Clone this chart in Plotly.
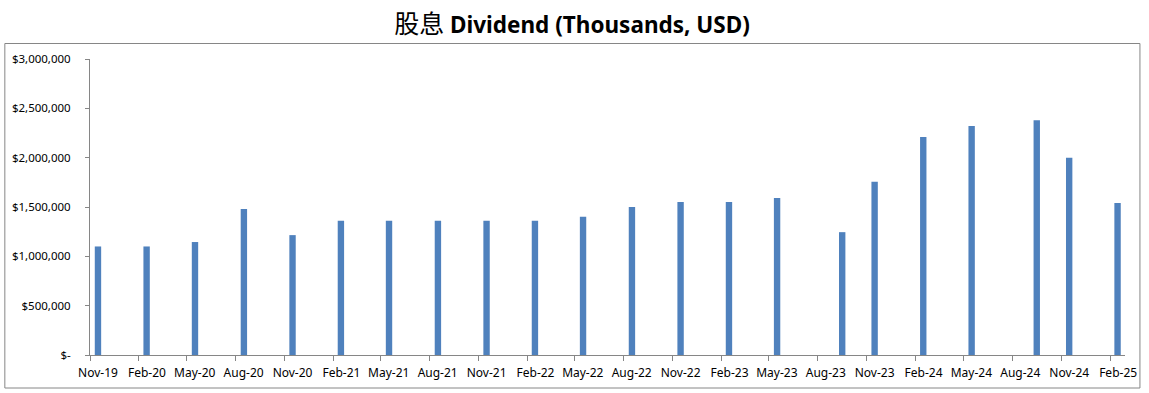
import plotly.graph_objects as go

# Data
months = ["2019-11", "2020-02", "2020-05", "2020-08", "2020-11", "2021-02", "2021-05",
          "2021-08", "2021-11", "2022-02", "2022-05", "2022-08", "2022-11", "2023-02",
          "2023-05", "2023-09", "2023-11", "2024-02", "2024-05", "2024-09", "2024-11",
          "2025-02"]
dividends = [1100000, 1100000, 1145000, 1480000, 1215000, 1360000, 1360000,
             1360000, 1360000, 1360000, 1400000, 1500000, 1550000, 1550000,
             1590000, 1245000, 1755000, 2210000, 2320000, 2380000, 2000000,
             1540000]
y_tick_vals = [0, 500000, 1000000, 1500000, 2000000, 2500000, 3000000]
y_tick_text = ["$-", "$500,000", "$1,000,000", "$1,500,000", "$2,000,000",
               "$2,500,000", "$3,000,000"]

W, H = 1149, 393
ml, mr, mt, mb = 88, 22, 59, 38
pw = W - ml - mr
ph = H - mt - mb

fig = go.Figure()
fig.add_trace(go.Bar(
    x=months, y=dividends,
    xperiod="M1", xperiodalignment="middle",
    width=12 * 86400000,
    marker=dict(color="#4F81BD", line=dict(width=0)),
    hoverinfo="x+y",
))

axis_color = "#868686"
fig.update_layout(
    width=W, height=H,
    margin=dict(l=ml, r=mr, t=mt, b=mb),
    paper_bgcolor="white", plot_bgcolor="white",
    showlegend=False,
    title=dict(
        text="<span style='font-family:Noto Sans CJK SC;font-weight:normal;font-size:25px'>股息</span> <b>Dividend (Thousands, USD)</b>",
        x=572 / W, xref="container", xanchor="center",
        y=1 - 25 / H, yref="container", yanchor="middle",
        font=dict(family="Noto Sans, Noto Sans CJK SC", size=22.5, color="black"),
    ),
    xaxis=dict(
        type="date",
        range=["2019-11-01", "2025-03-01"],
        tick0="2019-11-01", dtick="M3",
        tickformat="%b-%y",
        ticks="outside", ticklen=5, tickcolor=axis_color,
        ticklabelshift=8, ticklabelstandoff=2,
        showline=True, linecolor=axis_color, linewidth=1,
        showgrid=False, zeroline=False,
        tickfont=dict(family="Noto Sans", size=12, color="black"),
    ),
    yaxis=dict(
        range=[0, 3000000],
        tickvals=y_tick_vals, ticktext=y_tick_text,
        ticks="outside", ticklen=4, tickcolor=axis_color,
        ticklabelstandoff=12,
        showline=True, linecolor=axis_color, linewidth=1,
        showgrid=False, zeroline=False,
        tickfont=dict(family="Noto Sans", size=11.5, color="black"),
    ),
)

# chart border
fig.add_shape(
    type="rect", xref="paper", yref="paper",
    x0=(2.5 - ml) / pw, x1=(1142 - ml) / pw,
    y0=(H - mb - 388) / ph, y1=(H - mb - 43.5) / ph,
    line=dict(color=axis_color, width=1), fillcolor="rgba(0,0,0,0)",
    layer="below",
)

fig.write_html("out.html", config={"displayModeBar": False},
               post_script="document.body.style.margin='0';")
